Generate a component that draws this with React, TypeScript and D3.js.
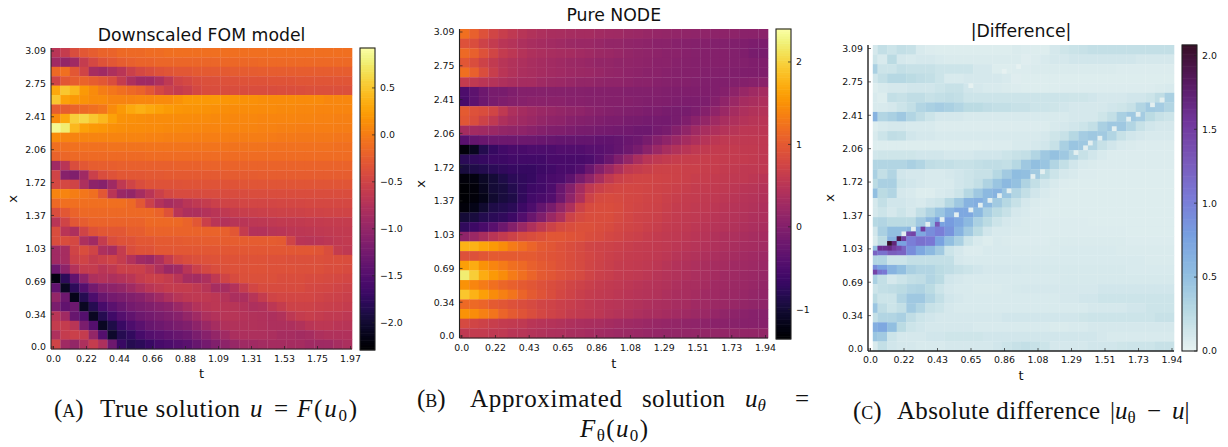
import React from 'react';
import * as d3 from 'd3';

// heatmaps are stored as 32 x 32 blocks (top row = largest x), in hundredths of u
const uTrue = [
[-70,-60,-40,-30,-25,-20,-20,-15,-15,-15,-12,-12,-10,-10,-10,-10,-10,-10,-10,-10,-10,-10,-10,-10,-10,-10,-10,-10,-10,-10,-10,-10],
[-90,-100,-90,-60,-45,-35,-30,-25,-22,-20,-20,-18,-18,-18,-18,-17,-17,-17,-16,-16,-16,-16,-15,-15,-15,-15,-15,-15,-15,-15,-15,-15],
[-15,-10,-30,-50,-85,-90,-80,-70,-55,-45,-40,-35,-32,-30,-30,-28,-28,-27,-27,-26,-26,-26,-25,-25,-25,-25,-25,-25,-25,-25,-25,-25],
[-50,-30,-25,-20,-25,-30,-40,-60,-80,-90,-90,-80,-65,-50,-45,-40,-38,-37,-36,-36,-35,-35,-35,-34,-34,-34,-33,-33,-33,-32,-32,-32],
[30,50,40,20,10,0,-5,-10,-15,-20,-30,-45,-55,-60,-55,-45,-40,-40,-40,-40,-40,-40,-40,-40,-39,-39,-39,-38,-38,-38,-38,-38],
[50,25,20,15,10,10,5,5,5,8,8,10,10,15,20,20,20,20,18,17,15,14,13,12,12,11,10,10,10,8,8,8],
[-25,-25,-20,-15,-10,-5,10,20,30,35,30,25,22,18,17,16,15,14,13,12,12,11,10,10,9,9,8,8,7,7,6,6],
[10,30,55,60,50,40,25,15,14,13,12,12,12,11,11,10,10,9,9,8,8,8,7,7,6,6,5,5,4,4,3,3],
[85,75,40,25,20,18,14,13,12,11,10,10,9,9,8,8,7,7,6,6,5,5,4,4,3,3,2,2,1,1,0,0],
[10,5,5,5,5,5,5,5,5,5,4,4,3,3,3,2,2,1,1,0,0,0,0,-1,-2,-2,-3,-3,-4,-4,-5,-5],
[-10,-10,-8,-8,-8,-8,-7,-7,-7,-7,-6,-6,-6,-6,-6,-6,-6,-6,-6,-7,-7,-7,-7,-8,-8,-8,-8,-9,-9,-9,-10,-10],
[-20,-18,-15,-15,-14,-14,-14,-13,-13,-13,-12,-12,-12,-12,-12,-12,-12,-12,-12,-12,-12,-12,-12,-12,-12,-12,-12,-12,-12,-12,-12,-12],
[-90,-70,-40,-30,-25,-24,-24,-23,-23,-22,-22,-22,-22,-21,-21,-21,-20,-20,-20,-20,-20,-20,-20,-20,-20,-20,-20,-20,-20,-20,-20,-20],
[-50,-110,-115,-90,-55,-40,-35,-30,-30,-30,-29,-29,-28,-28,-28,-27,-27,-27,-26,-26,-26,-26,-25,-25,-25,-25,-25,-25,-25,-25,-25,-25],
[-45,-45,-50,-80,-105,-110,-90,-65,-50,-40,-35,-35,-35,-35,-34,-34,-34,-34,-34,-34,-33,-33,-33,-33,-33,-33,-33,-33,-33,-33,-33,-33],
[5,5,0,-5,-10,-30,-70,-95,-100,-85,-70,-55,-45,-42,-42,-42,-41,-41,-41,-41,-41,-40,-40,-40,-40,-40,-40,-40,-40,-40,-40,-40],
[-15,-10,-10,-10,-10,-10,-10,-10,-15,-30,-55,-75,-85,-80,-70,-65,-60,-55,-50,-50,-48,-48,-47,-47,-46,-46,-46,-45,-45,-45,-45,-45],
[-40,-30,-20,-15,-15,-15,-15,-15,-15,-15,-15,-20,-35,-70,-80,-80,-75,-70,-65,-60,-58,-56,-55,-54,-53,-52,-52,-51,-51,-50,-50,-50],
[-70,-50,-30,-25,-20,-20,-20,-20,-20,-20,-15,-15,-15,-15,-20,-30,-55,-70,-75,-72,-70,-68,-66,-65,-63,-62,-62,-61,-61,-60,-60,-60],
[-40,-70,-80,-50,-35,-30,-30,-30,-25,-25,-20,-20,-20,-20,-20,-20,-20,-20,-22,-30,-60,-75,-75,-72,-70,-68,-67,-66,-65,-64,-63,-62],
[-40,-40,-45,-80,-90,-60,-40,-35,-35,-30,-30,-28,-28,-27,-26,-26,-25,-25,-25,-25,-25,-26,-26,-26,-28,-50,-70,-72,-70,-68,-65,-63],
[-90,-85,-50,-40,-50,-80,-85,-60,-40,-35,-35,-30,-30,-30,-30,-30,-30,-30,-30,-30,-30,-30,-30,-30,-30,-30,-30,-30,-33,-40,-60,-65],
[-90,-85,-55,-50,-60,-55,-50,-60,-75,-90,-95,-80,-60,-45,-40,-38,-36,-35,-35,-35,-35,-35,-35,-36,-36,-37,-37,-38,-38,-39,-39,-40],
[-130,-105,-75,-60,-60,-70,-65,-55,-55,-55,-65,-80,-95,-90,-70,-55,-45,-40,-38,-36,-36,-35,-35,-36,-36,-36,-37,-38,-38,-40,-40,-42],
[-220,-180,-140,-105,-80,-75,-80,-75,-70,-60,-55,-55,-60,-70,-85,-88,-80,-65,-50,-42,-38,-38,-38,-38,-40,-40,-40,-42,-42,-44,-45,-47],
[-140,-210,-180,-150,-125,-110,-105,-100,-90,-80,-70,-65,-60,-60,-60,-65,-72,-85,-85,-75,-60,-48,-42,-42,-42,-43,-43,-45,-46,-48,-50,-52],
[-100,-130,-215,-185,-155,-135,-125,-120,-115,-110,-100,-90,-80,-72,-66,-65,-65,-68,-74,-82,-82,-72,-60,-50,-47,-47,-47,-48,-50,-52,-54,-56],
[-120,-140,-130,-210,-185,-160,-145,-135,-125,-120,-115,-110,-105,-95,-85,-75,-70,-68,-70,-72,-75,-80,-78,-68,-60,-53,-52,-53,-55,-56,-58,-60],
[-70,-90,-135,-150,-210,-185,-165,-150,-140,-130,-125,-120,-115,-110,-100,-90,-80,-75,-72,-72,-74,-76,-78,-80,-76,-66,-60,-58,-60,-62,-64,-66],
[-60,-60,-70,-120,-150,-210,-190,-170,-155,-145,-135,-130,-125,-120,-115,-105,-95,-85,-78,-76,-76,-76,-78,-80,-80,-80,-76,-70,-68,-68,-70,-72],
[-80,-60,-55,-60,-100,-150,-205,-185,-175,-160,-150,-145,-140,-135,-130,-120,-110,-100,-90,-82,-80,-80,-80,-82,-85,-85,-88,-85,-80,-78,-78,-78],
[-50,-90,-100,-80,-60,-80,-130,-170,-185,-180,-170,-160,-155,-150,-145,-135,-125,-115,-105,-98,-92,-90,-88,-87,-87,-87,-87,-90,-92,-90,-85,-82],
];

const uNode = [
[120,105,90,75,65,55,48,42,38,35,33,32,30,30,28,26,25,22,20,18,16,15,13,12,10,10,8,8,8,5,5,5],
[90,85,70,60,50,45,38,33,30,28,25,22,20,20,18,15,15,12,10,8,6,5,3,2,0,0,-2,-2,-3,-5,-8,-8],
[115,105,90,75,60,52,45,40,36,34,32,30,28,25,22,20,18,15,12,10,8,6,5,3,2,0,0,0,-2,-5,-10,-10],
[95,85,70,58,48,42,38,33,30,28,25,22,20,18,15,15,12,12,10,8,6,5,3,2,0,0,0,0,-2,-2,-5,-5],
[120,105,85,65,50,42,36,33,30,28,26,24,22,20,18,15,13,10,8,6,5,3,2,0,0,-2,-2,-2,-3,-5,-5,-5],
[60,55,50,45,40,35,30,30,25,22,20,18,15,15,12,10,10,8,6,5,3,2,0,0,-2,-3,-3,-3,-2,0,3,5],
[-50,-35,-20,-10,-10,-5,0,0,2,2,2,2,2,0,0,0,0,-2,-2,-2,-2,-3,-4,-4,-4,-4,-3,0,8,18,25,30],
[-55,-35,-20,-10,-5,0,3,5,5,5,5,3,3,2,2,0,0,0,-2,-3,-3,-5,-6,-7,-7,-6,0,10,20,30,35,40],
[100,90,85,75,55,38,30,25,20,18,15,12,10,5,3,0,-2,-3,-5,-7,-8,-10,-12,-12,-8,0,10,20,30,38,42,45],
[95,85,70,55,40,30,25,20,15,10,8,3,0,-2,-5,-7,-8,-10,-12,-13,-13,-15,-12,-5,5,15,25,33,40,45,48,50],
[30,28,25,20,15,12,10,5,0,-3,-5,-8,-10,-12,-13,-15,-17,-18,-20,-20,-15,-10,0,12,25,33,40,45,48,52,52,52],
[-40,-30,-25,-20,-20,-20,-20,-22,-25,-27,-30,-30,-30,-30,-32,-33,-30,-25,-20,-10,0,10,20,30,40,47,52,55,55,55,55,55],
[-130,-115,-85,-70,-60,-55,-55,-50,-50,-50,-45,-45,-45,-42,-40,-35,-30,-20,-10,5,20,33,42,50,55,58,60,60,60,58,58,56],
[-80,-75,-70,-65,-65,-60,-60,-60,-60,-55,-55,-55,-55,-50,-40,-25,-5,15,35,50,55,60,63,65,65,65,63,62,60,60,58,56],
[-95,-90,-85,-80,-75,-70,-70,-70,-65,-60,-55,-55,-45,-25,0,20,40,55,62,66,70,70,70,68,67,65,63,60,58,56,55,55],
[-130,-125,-110,-100,-90,-80,-75,-70,-60,-55,-50,-35,-10,10,35,55,68,72,75,75,73,72,70,68,65,63,60,58,56,55,52,50],
[-135,-130,-115,-100,-95,-85,-75,-65,-60,-50,-25,0,30,55,68,75,78,78,76,75,72,70,68,65,62,60,58,55,53,50,48,45],
[-135,-130,-120,-105,-95,-90,-75,-60,-55,-45,-20,10,40,70,80,82,80,78,76,74,72,68,65,62,60,57,55,52,50,47,45,42],
[-130,-120,-105,-90,-85,-80,-65,-50,-30,-10,15,40,70,82,85,85,82,78,75,72,70,66,62,60,57,55,52,50,47,45,42,40],
[-100,-95,-85,-80,-75,-65,-45,-25,-5,20,40,70,80,85,85,85,80,76,72,70,67,63,60,57,55,52,50,47,45,42,40,38],
[-75,-65,-55,-40,-20,0,20,40,55,70,80,85,88,88,85,82,78,75,72,68,65,60,58,55,52,50,47,45,42,40,37,35],
[10,20,35,50,60,70,80,85,90,95,95,92,90,85,82,78,75,70,67,63,60,57,55,52,50,47,43,40,38,35,32,30],
[175,175,165,155,145,130,120,110,100,95,90,85,80,75,72,70,68,65,62,60,58,55,52,50,47,44,41,38,35,32,30,28],
[90,90,95,100,100,100,100,100,95,92,90,85,80,76,72,68,65,62,60,58,56,52,48,45,42,39,36,33,31,28,26,24],
[160,170,150,140,130,120,115,105,100,95,90,85,80,75,70,66,62,60,58,55,52,48,44,41,38,35,32,30,27,25,23,20],
[220,195,170,155,145,130,120,110,100,95,90,85,80,74,68,64,60,58,55,52,49,45,42,39,36,33,30,27,25,22,20,18],
[150,140,130,120,112,105,100,95,90,85,80,75,70,66,62,58,55,52,50,47,45,42,38,35,33,30,27,25,22,20,18,15],
[190,175,160,145,135,125,110,100,92,85,78,72,66,62,58,55,52,50,47,45,42,38,35,33,30,27,25,22,20,18,15,12],
[115,115,110,100,95,90,85,80,75,72,68,65,60,56,52,50,48,46,43,40,37,35,32,30,27,25,22,20,17,15,12,10],
[150,145,135,125,110,100,92,85,78,72,68,62,58,55,52,48,45,42,38,35,33,30,28,25,22,20,16,12,8,5,3,3],
[80,75,70,65,60,58,55,50,47,45,42,40,37,35,33,30,28,25,23,20,18,16,14,12,10,8,6,5,4,3,3,3],
[55,60,60,55,55,50,48,45,42,40,38,35,33,30,28,26,24,22,20,18,16,15,14,14,14,14,15,15,15,15,15,15],
];

const uDiff = [
[10,20,15,20,18,8,6,5,5,5,5,5,5,5,5,7,6,5,5,10,14,16,18,20,20,20,20,20,20,20,20,20],
[15,8,25,10,8,10,10,8,7,7,7,7,7,7,7,7,4,6,8,10,10,12,12,12,12,12,12,12,10,10,10,10],
[35,15,15,20,18,18,18,15,15,15,15,10,10,5,5,6,6,7,7,7,7,7,7,7,7,7,6,6,6,6,6,6],
[12,20,28,28,25,22,20,15,8,8,10,10,10,10,8,4,5,5,5,5,5,5,5,5,5,5,5,5,5,5,5,5],
[5,8,10,10,12,12,12,15,18,18,12,10,8,8,7,6,5,5,5,5,6,6,6,6,6,6,6,6,6,6,7,8],
[8,5,20,18,22,22,18,20,22,20,15,15,15,15,15,15,15,15,15,15,15,14,14,12,10,10,10,12,12,15,22,35],
[8,8,10,15,20,30,35,38,35,30,25,25,22,20,20,18,18,15,15,14,12,10,10,10,10,12,14,18,30,40,38,30],
[60,30,35,42,30,22,15,10,10,10,8,8,8,8,8,8,8,8,8,8,8,10,10,10,14,20,35,42,38,25,18,15],
[5,8,10,10,8,8,8,6,6,6,6,6,6,6,6,6,6,6,6,8,10,12,15,20,35,42,42,30,18,12,10,10],
[8,15,22,20,12,10,10,8,8,8,8,8,8,8,8,8,8,8,10,14,18,28,38,42,40,30,18,12,10,8,8,8],
[5,5,5,5,5,5,5,5,5,5,5,5,6,6,6,8,8,10,12,18,35,45,42,30,18,12,8,7,6,6,6,6],
[12,14,14,14,14,12,12,12,10,10,10,12,12,12,15,18,20,30,42,48,42,30,18,12,8,6,6,6,6,6,6,6],
[30,30,30,30,35,30,22,20,20,18,18,20,22,22,20,28,42,50,45,30,20,12,8,7,6,6,6,6,6,6,6,6],
[35,20,30,12,10,10,8,8,10,12,15,18,18,28,40,52,50,40,25,15,10,8,6,6,5,5,5,5,5,5,5,5],
[25,35,35,15,12,10,8,8,8,12,15,20,32,45,55,48,32,20,12,8,6,5,5,5,5,5,5,5,5,5,5,5],
[50,25,30,10,8,5,5,8,10,15,28,42,55,60,45,30,20,12,8,6,5,5,5,5,5,5,5,5,5,5,5,5],
[10,20,12,12,10,8,12,15,28,42,60,65,55,40,28,18,10,7,6,5,5,5,5,5,5,5,5,5,5,5,5,5],
[10,15,10,15,10,20,32,45,60,70,70,55,35,25,18,10,8,6,5,5,5,5,5,5,5,5,5,5,5,5,5,5],
[28,30,25,25,25,40,55,75,80,70,55,35,25,15,10,8,7,6,6,6,6,6,6,5,5,5,5,5,5,5,5,5],
[12,35,50,50,55,70,90,100,85,60,40,25,12,8,8,7,7,6,6,6,6,6,6,6,6,6,6,5,5,5,5,5],
[8,25,60,75,100,110,105,75,50,35,15,8,5,8,7,6,6,6,6,7,7,7,7,7,7,7,7,6,6,6,6,6],
[50,110,125,120,90,70,55,40,15,10,6,6,8,8,8,7,7,7,7,7,8,8,8,8,8,8,7,7,7,7,7,7],
[30,30,15,15,20,20,20,20,20,10,8,8,8,8,8,8,8,8,8,8,8,8,8,8,8,8,8,8,8,7,7,7],
[90,75,60,50,35,30,30,25,22,18,15,12,10,10,10,10,9,9,9,9,9,9,9,9,9,9,9,8,8,8,8,8],
[35,20,10,15,20,22,30,25,12,10,8,8,8,8,8,8,8,8,8,8,9,9,9,9,9,9,9,9,9,9,9,9],
[15,20,22,25,30,32,25,15,10,8,8,7,7,7,8,9,10,10,10,10,10,10,10,10,12,12,12,12,12,12,12,12],
[25,15,15,30,42,42,30,20,12,10,8,8,8,8,8,8,8,8,8,8,10,10,12,12,15,15,15,15,15,15,15,15],
[45,22,15,20,40,30,18,15,10,8,8,8,8,8,8,8,8,8,8,8,8,8,8,10,10,10,10,12,12,15,15,15],
[20,30,30,35,22,15,12,10,10,10,10,10,10,10,12,12,12,12,12,12,12,12,14,15,15,15,15,15,15,15,18,18],
[65,70,50,25,15,12,10,10,10,10,10,8,8,8,8,8,8,8,8,7,7,8,8,10,10,10,10,10,10,10,10,10],
[45,40,15,10,10,10,12,12,14,14,14,14,12,12,12,12,12,12,12,12,12,12,12,12,10,8,8,8,8,8,8,8],
[8,20,12,10,10,8,8,8,10,10,10,10,10,12,15,18,20,18,15,10,10,10,10,12,12,12,14,15,15,15,18,18],
];

// single 64 x 64 cells of the difference that stand out from the blocks: [t index, x index, |diff|]
const diffCells = [
[61,52,.02],[59,51,.02],[56,49,.02],[54,48,.02],[51,46,.02],[48,44,.02],[46,43,.02],[45,42,.02],[43,41,.02],
[36,37,.02],[34,36,.02],[29,33,.02],[27,32,.02],[25,31,.02],[23,30,.02],[21,29,.02],[18,28,.02],[15,27,.02],
[12,26,.02],[9,25,.02],[7,24,.02],[31,59,.0],[28,58,.0],[21,55,.0],
[4,22,2.05],[6,23,1.9],[2,21,1.6],[3,21,1.6],[4,21,1.65],[5,21,1.5],[6,21,1.4],[5,22,1.7],[7,23,1.5],[8,24,1.4],[9,24,1.45],
[11,25,1.5],[14,26,1.3],[1,16,1.45],[2,16,1.1],[3,16,1.05],[1,20,1.2],
];

const tLabelsA = ['0.0','0.22','0.44','0.66','0.88','1.09','1.31','1.53','1.75','1.97'];
const tLabelsB = ['0.0','0.22','0.43','0.65','0.86','1.08','1.29','1.51','1.73','1.94'];
const xLabels = ['0.0','0.34','0.69','1.03','1.37','1.72','2.06','2.41','2.75','3.09'];
const cbarTicksA = [0.5,0,-0.5,-1,-1.5,-2];
const cbarTicksB = [2,1,0,-1];
const cbarTicksC = [2,1.5,1,0.5,0];
const denseStops = ['#e6f1f1','#b9dae3','#8fbde0','#779fe0','#7a79d6','#7a58b8','#71359a','#571a60','#360e24'];

const dense = d3.scaleLinear<string>()
  .domain(denseStops.map((_, i) => i / (denseStops.length - 1)))
  .range(denseStops)
  .interpolate(d3.interpolateRgb);

const SANS = "'DejaVu Sans', sans-serif";
const SERIF = "'Liberation Serif', serif";
const cells = d3.range(64);
const fmt = (v: number, dec: number) => v.toFixed(dec).replace('-', '\u2212');

type PanelProps = {
  title: string; titleY: number; rows: number[][];
  tLabels: string[]; box: number[]; ticksBox: number[]; cbar: number[];
  domain: number[]; cbarTicks: number[]; dec: number;
  color: (n: number) => string; tY: number; xLabelX: number; xLabelY: number; tickY: number; spine: number;
  extra?: boolean;
};

const Panel = ({ title, titleY, rows, tLabels, box, ticksBox, cbar, domain, cbarTicks, dec, color, tY, xLabelX, xLabelY, tickY, spine, extra }: PanelProps) => {
  const [l, t, r, b] = box;
  const [tl, tt, tr, tb] = ticksBox;
  const colX = d3.scaleBand<number>().domain(cells).range([l, r]);
  const rowY = d3.scaleBand<number>().domain(cells).range([t, b]);
  const tickX = d3.scalePoint<string>().domain(tLabels).range([tl, tr]);
  const tickV = d3.scalePoint<string>().domain(xLabels).range([tb, tt]);
  const norm = d3.scaleLinear().domain(domain).range([0, 1]);
  const [cl, ct, cr, cb] = cbar;
  const cY = d3.scaleLinear().domain(domain).range([cb, ct]);
  const bars = d3.range(128).map(i => domain[0] + (domain[1] - domain[0]) * i / 128);
  const cx = (l + r) / 2;
  return (
    <g fontFamily={SANS} fill="#111">
      {rows.map((row, i) => row.map((v, j) => (
        <rect key={`${i}-${j}`} x={colX(j * 2)} y={rowY(i * 2)} width={colX.bandwidth() * 2 + 0.3} height={rowY.bandwidth() * 2 + 0.3}
          fill={color(norm(v / 100))} />
      )))}
      {extra && diffCells.map(([i, k, v]) => (
        <rect key={`c${i}-${k}`} x={colX(i)} y={rowY(63 - k)} width={colX.bandwidth()} height={rowY.bandwidth()} fill={color(norm(v))} />
      ))}
      {extra && <rect x={colX(0)} y={t} width={colX.bandwidth()} height={b - t} fill="#fff" />}
      <line x1={l} x2={l} y1={t} y2={b} stroke="#222" strokeWidth={spine} />
      <line x1={l} x2={r} y1={b} y2={b} stroke="#222" strokeWidth={spine} />
      {tLabels.map(s => (
        <g key={s}>
          <line x1={tickX(s)} x2={tickX(s)} y1={b} y2={b - 3} stroke="#222" strokeWidth={0.7} />
          <text x={tickX(s)} y={tickY} fontSize={9.4} textAnchor="middle">{s}</text>
        </g>
      ))}
      {xLabels.map(s => (
        <g key={s}>
          <line x1={l} x2={l + 3} y1={tickV(s)} y2={tickV(s)} stroke="#222" strokeWidth={0.7} />
          <text x={l - 5} y={(tickV(s) as number) + 3.4} fontSize={9.4} textAnchor="end">{s}</text>
        </g>
      ))}
      <text x={cx} y={titleY} fontSize={17.3} textAnchor="middle">{title}</text>
      <text x={cx} y={tY} fontSize={13} textAnchor="middle">t</text>
      <text transform={`translate(${xLabelX},${xLabelY}) rotate(-90)`} fontSize={13} textAnchor="middle">x</text>
      {bars.map(v => (
        <rect key={v} x={cl} width={cr - cl} y={cY(v) - (cb - ct) / 128 - 0.3} height={(cb - ct) / 128 + 0.6} fill={color(norm(v))} />
      ))}
      <rect x={cl} y={ct} width={cr - cl} height={cb - ct} fill="none" stroke="#222" strokeWidth={1.1} />
      {cbarTicks.map(v => (
        <g key={v}>
          <line x1={cr - 3} x2={cr} y1={cY(v)} y2={cY(v)} stroke="#222" strokeWidth={0.7} />
          <text x={cr + 5} y={cY(v) + 3.4} fontSize={9.4}>{fmt(v, dec)}</text>
        </g>
      ))}
    </g>
  );
};

const sub = (s: string, size = 17) => <tspan fontSize={size} dy={4}>{s}</tspan>;
const back = (s: string) => <tspan dy={-4}>{s}</tspan>;

export default function App() {
  return (
    <svg width={1228} height={447} style={{ position: 'absolute', left: 0, top: 0, background: '#fff' }}>
      <Panel title="Downscaled FOM model" titleY={41} rows={uTrue} tLabels={tLabelsA}
        box={[51, 48, 352, 349]} ticksBox={[53.5, 51, 350.5, 347]} cbar={[360, 48, 375, 350]}
        domain={[-2.29, 0.925]} cbarTicks={cbarTicksA} dec={1} color={d3.interpolateInferno}
        tY={378} xLabelX={17} xLabelY={199} tickY={361.5} spine={1} />
      <Panel title="Pure NODE" titleY={21} rows={uNode} tLabels={tLabelsB}
        box={[459.5, 29, 768, 338]} ticksBox={[461.7, 32, 765.5, 336]} cbar={[776, 29, 791, 339]}
        domain={[-1.36, 2.4]} cbarTicks={cbarTicksB} dec={0} color={d3.interpolateInferno}
        tY={368} xLabelX={425} xLabelY={184} tickY={350.5} spine={1.1} />
      <Panel title="|Difference|" titleY={37} rows={uDiff} tLabels={tLabelsB}
        box={[868, 45, 1174, 351]} ticksBox={[870.5, 48.5, 1172, 349]} cbar={[1182, 45, 1197, 351]}
        domain={[0, 2.07]} cbarTicks={cbarTicksC} dec={1} color={dense}
        tY={380} xLabelX={834} xLabelY={198} tickY={363} spine={1.4} extra />

      <g fontFamily={SERIF} fill="#111" fontSize={25}>
        <text x={54} y={417}>(<tspan fontSize={18}>A</tspan>)</text>
        <text x={100} y={417} textLength={140} lengthAdjust="spacing">True solution</text>
        <text x={250} y={417} fontStyle="italic">u</text>
        <text x={274} y={417}>=</text>
        <text x={297} y={417} textLength={60} lengthAdjust="spacing"><tspan fontStyle="italic">F</tspan>(<tspan fontStyle="italic">u</tspan>{sub('0')}{back(')')}</text>

        <text x={417} y={407}>(<tspan fontSize={18}>B</tspan>)</text>
        <text x={470} y={407} textLength={152} lengthAdjust="spacing">Approximated</text>
        <text x={642} y={407} textLength={83} lengthAdjust="spacing">solution</text>
        <text x={745} y={407} fontStyle="italic">u{sub('\u03b8')}</text>
        <text x={795} y={407}>=</text>
        <text x={580} y={437} textLength={68} lengthAdjust="spacing"><tspan fontStyle="italic">F</tspan>{sub('\u03b8')}{back('(')}<tspan fontStyle="italic">u</tspan>{sub('0')}{back(')')}</text>

        <text x={853} y={419}>(<tspan fontSize={18}>C</tspan>)</text>
        <text x={897} y={419} textLength={203} lengthAdjust="spacing">Absolute difference</text>
        <text x={1110} y={419}>|<tspan fontStyle="italic">u</tspan>{sub('\u03b8')}</text>
        <text x={1147} y={419}>{'\u2212'}</text>
        <text x={1172} y={419}><tspan fontStyle="italic">u</tspan>|</text>
      </g>
    </svg>
  );
}
